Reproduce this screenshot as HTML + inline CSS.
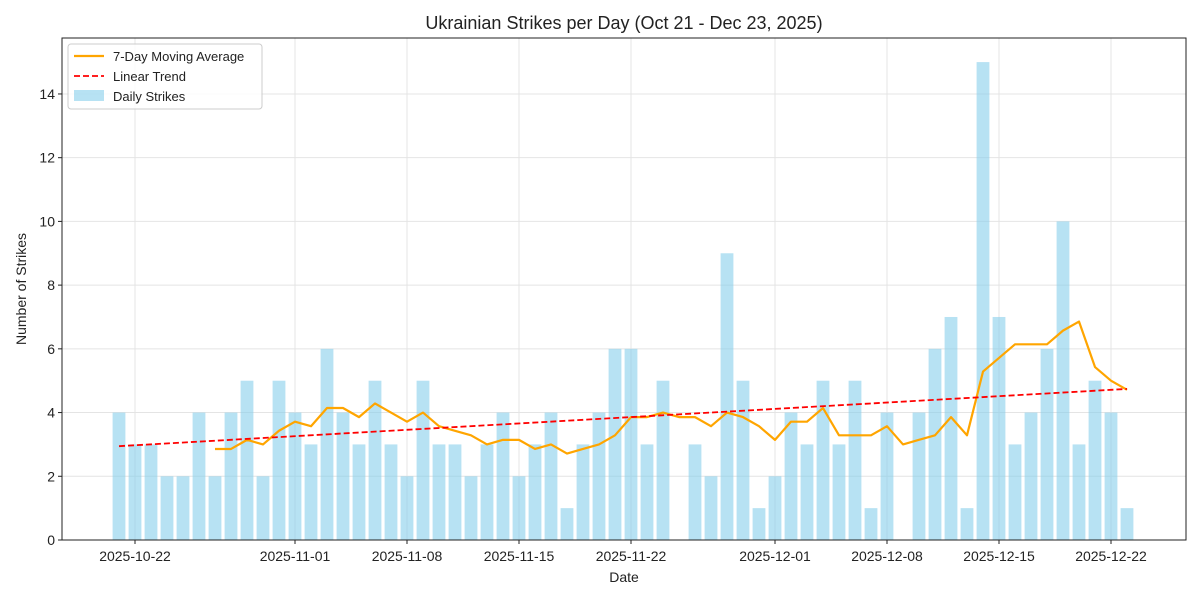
<!DOCTYPE html>
<html><head><meta charset="utf-8"><style>
body{margin:0;background:#fff;font-family:"Liberation Sans",sans-serif}
svg text{font-family:"Liberation Sans",sans-serif;fill:#222}
</style></head><body>
<svg id="c" width="1200" height="600"></svg>
<script>
const startDate = "2025-10-21";
const dailyStrikes = [4,3,3,2,2,4,2,4,5,2,5,4,3,6,4,3,5,3,2,5,3,3,2,3,4,2,3,4,1,3,4,6,6,3,5,0,3,2,9,5,1,2,4,3,5,3,5,1,4,0,4,6,7,1,15,7,3,4,6,10,3,5,4,1];
const yTicks = [0,2,4,6,8,10,12,14];
const xTickLabels = ["2025-10-22","2025-11-01","2025-11-08","2025-11-15","2025-11-22","2025-12-01","2025-12-08","2025-12-15","2025-12-22"];

const NS="http://www.w3.org/2000/svg";
const svg=document.getElementById('c');
const L=62,R=1186,T=38,B=540;
const day0=Date.parse(startDate);
const dayIdx=s=>(Date.parse(s)-day0)/86400000;
const xs=i=>119+16*i;
const ys=v=>B-v*31.86;
function el(tag,attrs,parent){const e=document.createElementNS(NS,tag);for(const k in attrs)e.setAttribute(k,attrs[k]);(parent||svg).appendChild(e);return e;}

// frame background
el('rect',{x:L,y:T,width:R-L,height:B-T,fill:'#fff'});
// grid
yTicks.forEach(v=>{const g=el('line',{x1:L,x2:R,y1:ys(v),y2:ys(v),stroke:'#e4e4e4','stroke-width':1});

});
xTickLabels.forEach(s=>{const x=xs(dayIdx(s));const g=el('line',{x1:x,x2:x,y1:T,y2:B,stroke:'#e4e4e4','stroke-width':1});

});
// bars
dailyStrikes.forEach((v,i)=>{const r=el('rect',{x:xs(i)-6.4,y:ys(v),width:12.8,height:B-ys(v),fill:'#87CEEB','fill-opacity':0.6});

});
// moving average
let pts=[];
for(let i=6;i<dailyStrikes.length;i++){let s=0;for(let j=i-6;j<=i;j++)s+=dailyStrikes[j];pts.push(xs(i)+','+ys(s/7));}
const ma=el('polyline',{points:pts.join(' '),fill:'none',stroke:'#FFA500','stroke-width':2.2,'stroke-linejoin':'round'});


// trend
const n=dailyStrikes.length;let sx=0,sy=0,sxy=0,sxx=0;
dailyStrikes.forEach((v,i)=>{sx+=i;sy+=v;sxy+=i*v;sxx+=i*i;});
const m=(n*sxy-sx*sy)/(n*sxx-sx*sx),b=(sy-m*sx)/n;
const tr=el('line',{x1:xs(0),y1:ys(b),x2:xs(n-1),y2:ys(b+m*(n-1)),stroke:'#FF0000','stroke-width':1.8,'stroke-dasharray':'6,3'});


// axes frame
el('rect',{x:L,y:T,width:R-L,height:B-T,fill:'none',stroke:'#222','stroke-width':1});
// y ticks
yTicks.forEach(v=>{el('line',{x1:L-4,x2:L,y1:ys(v),y2:ys(v),stroke:'#222'});
const t=el('text',{x:L-7,y:ys(v)+5,'text-anchor':'end','font-size':14});t.textContent=v;

});
xTickLabels.forEach(s=>{const x=xs(dayIdx(s));el('line',{x1:x,x2:x,y1:B,y2:B+4,stroke:'#222'});
const t=el('text',{x:x,y:B+21,'text-anchor':'middle','font-size':14});t.textContent=s;

});
// titles
let t=el('text',{x:624,y:29,'text-anchor':'middle','font-size':18});t.textContent='Ukrainian Strikes per Day (Oct 21 - Dec 23, 2025)';


t=el('text',{x:624,y:582,'text-anchor':'middle','font-size':14});t.textContent='Date';


t=el('text',{x:26,y:289,'text-anchor':'middle','font-size':14,transform:'rotate(-90 26 289)'});t.textContent='Number of Strikes';


// legend
const lg=el('g',{});


el('rect',{x:68,y:44,width:194,height:65,rx:3,fill:'#fff','fill-opacity':0.85,stroke:'#ccc'},lg);
el('line',{x1:74,x2:104,y1:56,y2:56,stroke:'#FFA500','stroke-width':2.2},lg);
el('line',{x1:74,x2:104,y1:76,y2:76,stroke:'#FF0000','stroke-width':1.8,'stroke-dasharray':'6,3'},lg);
el('rect',{x:74,y:90,width:30,height:11,fill:'#87CEEB','fill-opacity':0.6},lg);
[['7-Day Moving Average',61],['Linear Trend',81],['Daily Strikes',101]].forEach(([s,y])=>{const e=el('text',{x:113,y:y,'font-size':13},lg);e.textContent=s;

});
</script>
</body></html>
